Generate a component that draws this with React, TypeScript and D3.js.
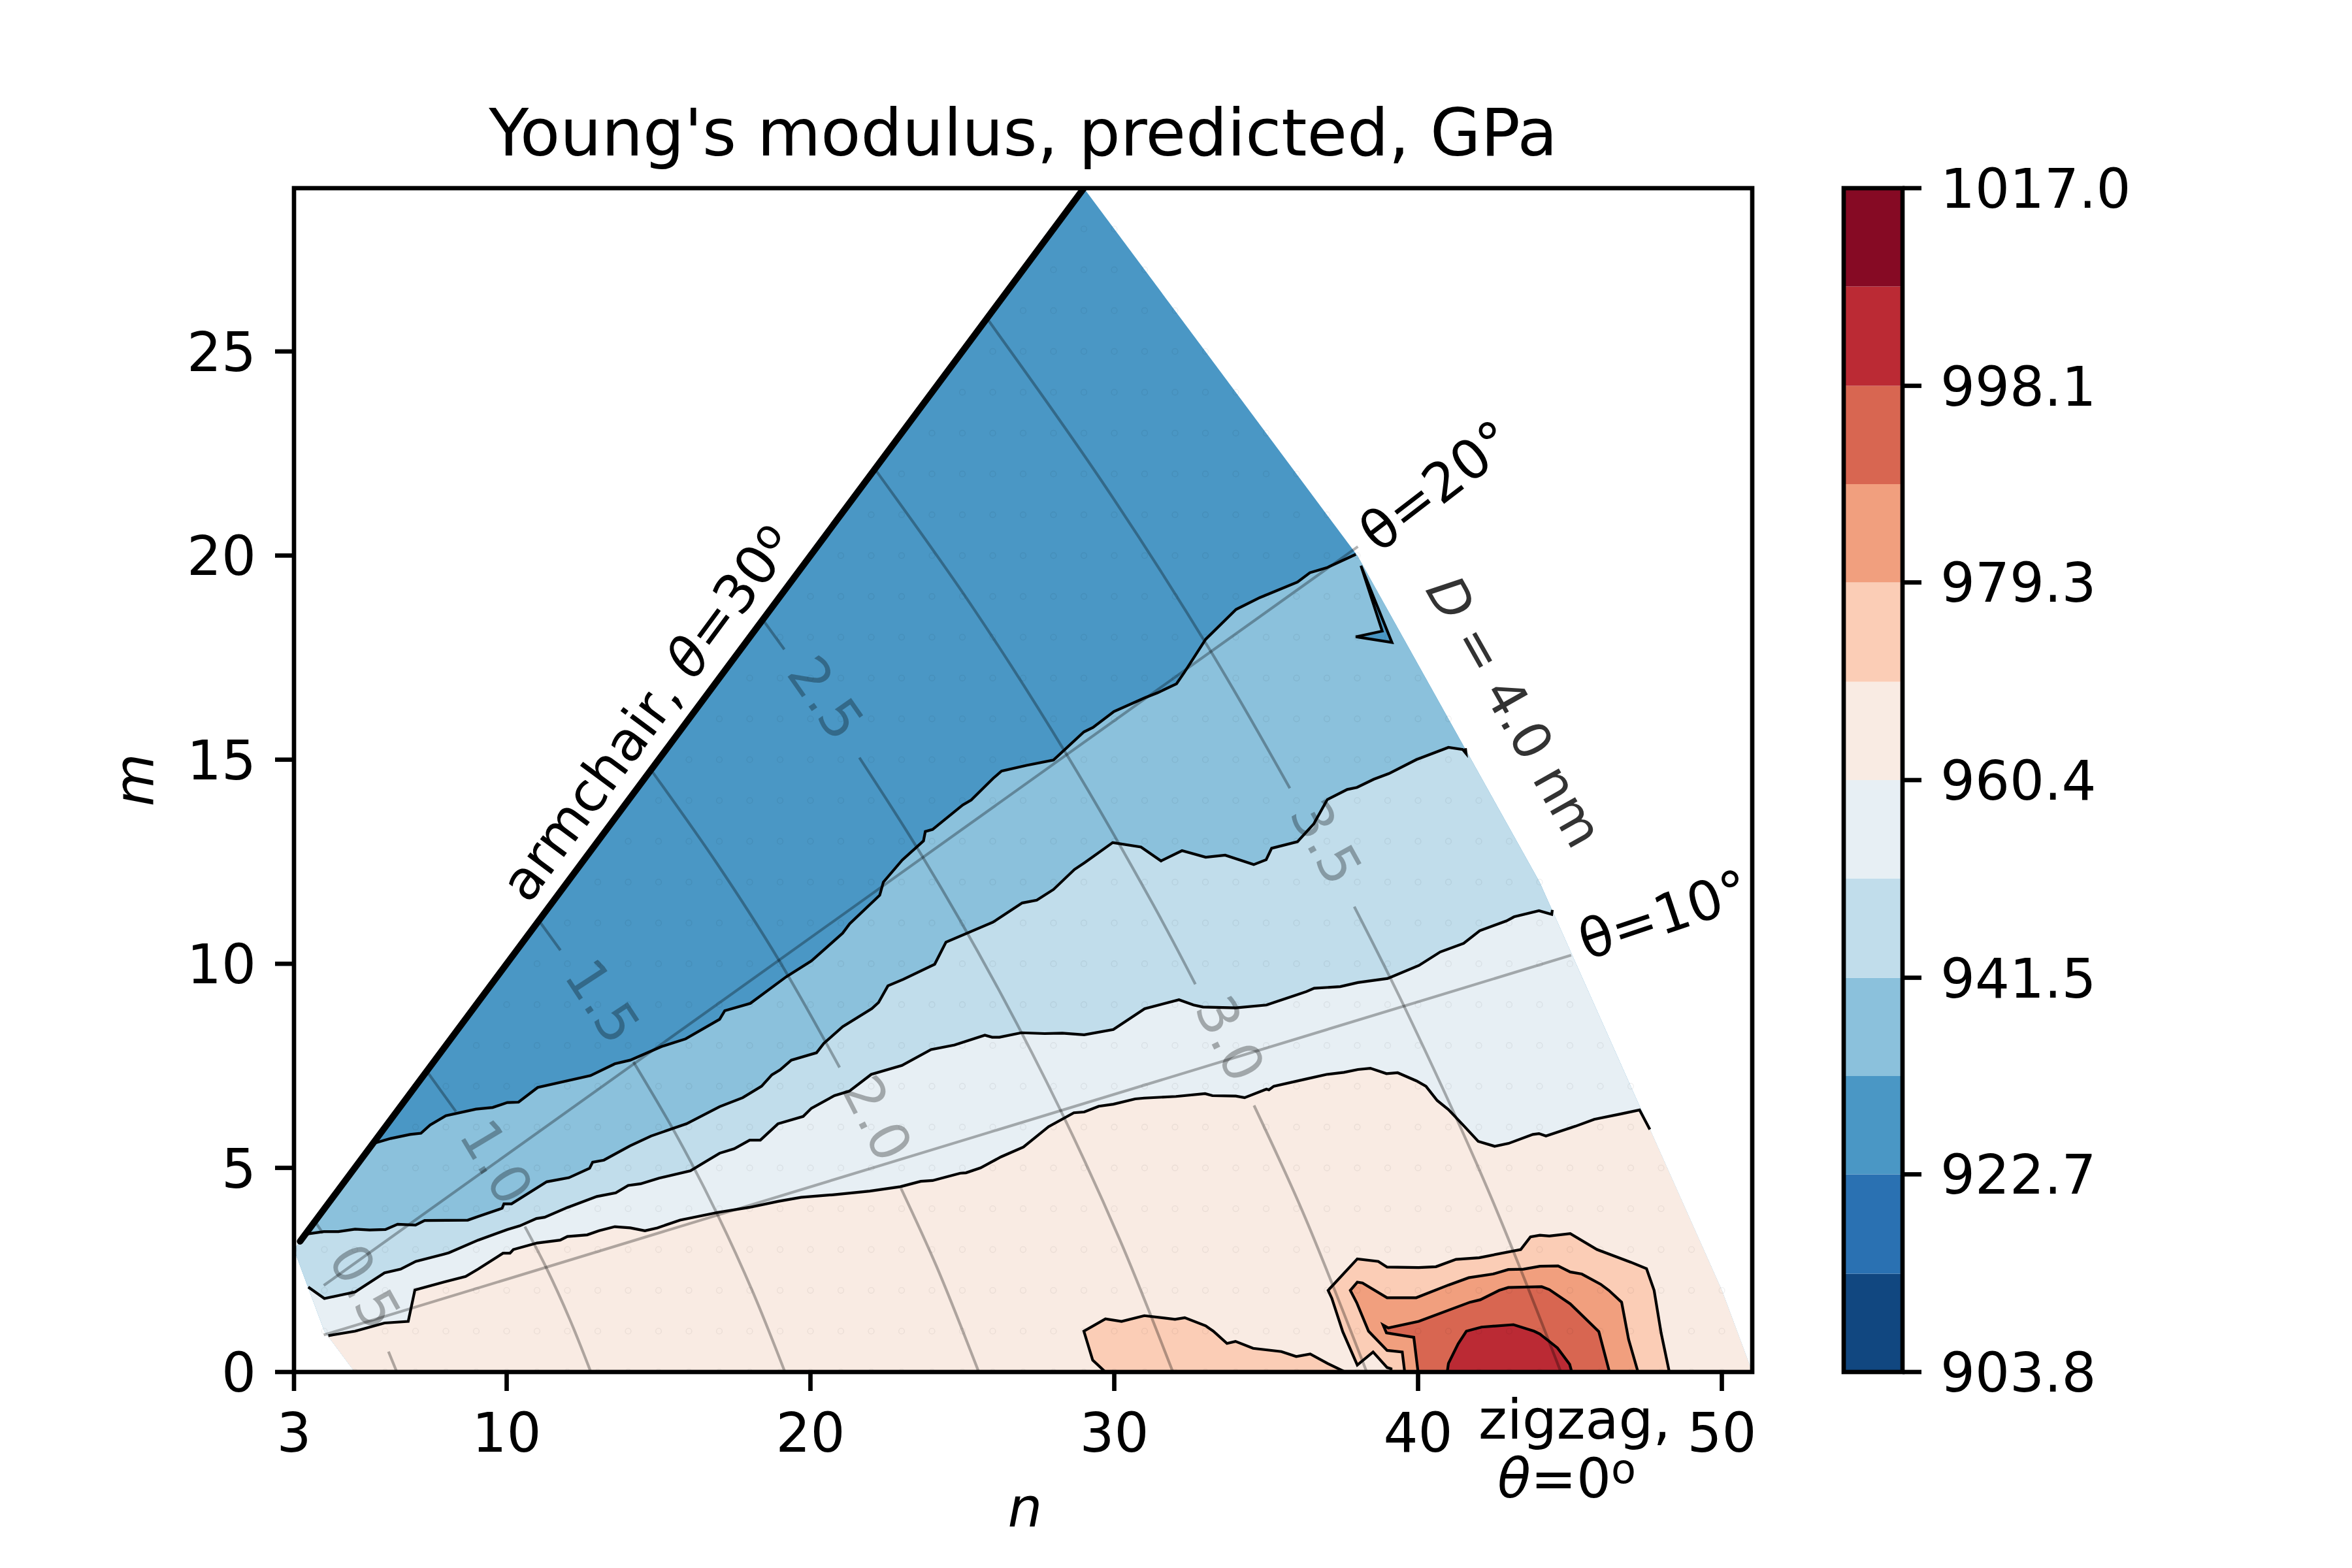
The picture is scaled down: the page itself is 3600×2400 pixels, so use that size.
import React from "react";
import * as d3 from "d3";

type P = [number, number];

// Contour levels and band colours of the filled contour (RdBu_r, 12 levels)
const levels = [903.8, 913.2, 922.7, 932.1, 941.5, 951.0, 960.4, 969.8, 979.3, 988.7, 998.1, 1007.6, 1017.0];
const bandColors = ["#114780", "#2a71b2", "#4a97c5", "#8bc1dc", "#c1ddeb", "#e7eff4", "#f9ebe3", "#fbcdb6", "#f19f7e", "#d86651", "#bb2a34", "#860a24"];
const colorbarTicks = [903.8, 922.7, 941.5, 960.4, 979.3, 998.1, 1017.0];
const xTicks = [3, 10, 20, 30, 40, 50];
const yTicks = [0, 5, 10, 15, 20, 25];

// Lattice of computed (n, m) nanotubes: smallest and largest n per row m
const gridNMin = [5, 4, 4, 3, 4, 5, 6, 7, 8, 9, 10, 11, 12, 13, 14, 15, 16, 17, 18, 19, 20, 21, 22, 23, 24, 25, 26, 27, 28, 29];
const gridNMax = [51, 50, 50, 49, 48, 48, 47, 47, 46, 45, 45, 44, 44, 43, 42, 41, 41, 40, 39, 38, 38, 37, 36, 35, 34, 33, 32, 31, 30, 29];

const c932: P[] = [[5.63,5.6],[6.18,5.72],[6.82,5.82],[7.18,5.85],[7.48,6.05],[8.0,6.28],[8.99,6.44],[9.54,6.48],[10.02,6.6],[10.39,6.61],[11.02,6.97],[12.76,7.26],[13.56,7.55],[14.07,7.64],[15.09,7.97],[15.89,8.16],[17.01,8.64],[17.18,8.85],[18.02,9.03],[19.2,9.68],[20.03,10.07],[21.06,10.75],[21.29,10.98],[22.28,11.68],[22.4,12.0],[23.02,12.54],[23.72,13.01],[23.78,13.24],[24.02,13.29],[25.01,13.89],[25.29,14.01],[26.01,14.54],[26.29,14.72],[27.11,14.86],[28.0,14.99],[29.0,15.68],[29.3,15.79],[29.99,16.18],[31.02,16.52],[31.43,16.64],[32.05,16.86],[32.3,17.13],[33.01,17.95],[34.01,18.68],[34.79,18.97],[36.03,19.35],[36.44,19.58],[36.99,19.7],[37.95,20.03]];
const c932Wedge: P[] = [[38.12,19.75],[39.14,17.87],[37.95,18.01],[38.82,18.15]];
const c941: P[] = [[3.41,3.38],[3.98,3.44],[4.46,3.44],[5.01,3.5],[5.49,3.48],[6.01,3.49],[6.41,3.62],[7.0,3.6],[7.3,3.71],[8.72,3.72],[9.06,3.81],[9.85,4.01],[9.91,4.12],[10.16,4.12],[11.32,4.66],[12.05,4.76],[12.73,4.99],[12.83,5.14],[13.2,5.19],[14.06,5.54],[14.75,5.78],[15.92,6.08],[17.01,6.5],[17.77,6.72],[18.39,7.0],[18.73,7.28],[19.0,7.4],[19.37,7.64],[20.2,7.82],[20.44,8.05],[21.06,8.46],[22.02,8.9],[22.24,9.05],[22.55,9.46],[23.06,9.62],[24.09,9.99],[24.46,10.53],[26.01,11.02],[26.97,11.49],[27.45,11.56],[28.0,11.82],[28.69,12.31],[29.03,12.48],[29.95,12.97],[30.88,12.86],[31.54,12.52],[32.23,12.77],[33.01,12.61],[33.65,12.66],[34.59,12.43],[35.0,12.55],[35.18,12.83],[36.03,12.99],[36.57,13.43],[37.01,14.02],[37.67,14.27],[37.99,14.32],[38.54,14.52],[39.04,14.66],[39.94,15.0],[41.0,15.3],[41.47,15.25],[41.58,15.15],[41.56,15.28]];
const c951: P[] = [[3.47,2.08],[4.0,1.8],[4.51,1.88],[5.01,1.96],[5.98,2.43],[6.51,2.52],[7.01,2.71],[7.95,2.89],[8.1,2.92],[9.06,3.23],[10.02,3.49],[10.43,3.58],[10.98,3.76],[11.25,3.79],[12.0,4.03],[12.97,4.3],[13.59,4.39],[14.0,4.57],[14.41,4.61],[15.02,4.75],[16.05,4.93],[17.01,5.36],[17.49,5.47],[18.0,5.68],[18.35,5.68],[18.93,6.08],[19.76,6.26],[20.03,6.46],[20.79,6.77],[21.28,6.88],[22.0,7.29],[23.01,7.51],[23.97,7.9],[24.74,8.01],[25.74,8.25],[25.98,8.2],[26.22,8.2],[26.94,8.31],[27.71,8.29],[28.29,8.3],[29.01,8.26],[29.97,8.39],[31.0,8.9],[32.13,9.12],[32.61,8.99],[32.92,8.94],[34.0,8.92],[35.01,8.99],[36.33,9.32],[36.58,9.4],[37.44,9.44],[38.02,9.54],[39.0,9.64],[40.03,9.96],[40.73,10.29],[41.5,10.5],[42.03,10.81],[42.91,11.05],[43.16,11.15],[43.98,11.3],[44.4,11.21],[44.42,11.32]];
const c960: P[] = [[4.13,0.89],[5.01,1.0],[5.98,1.2],[6.76,1.24],[6.98,2.01],[7.96,2.21],[8.65,2.34],[9.06,2.52],[9.88,2.91],[10.11,2.91],[10.22,3.0],[11.0,3.16],[11.76,3.23],[12.0,3.32],[12.65,3.36],[13.04,3.46],[13.56,3.56],[14.07,3.53],[14.55,3.46],[14.96,3.53],[15.71,3.72],[16.95,3.91],[17.97,4.03],[18.93,4.18],[19.69,4.28],[20.72,4.34],[21.95,4.43],[22.96,4.54],[23.63,4.67],[24.02,4.69],[24.93,4.87],[25.12,4.88],[25.6,5.0],[26.27,5.27],[27.01,5.51],[27.84,6.01],[28.67,6.35],[29.01,6.37],[29.49,6.51],[29.97,6.56],[30.69,6.69],[30.98,6.71],[32.03,6.75],[32.99,6.82],[33.23,6.77],[34.0,6.76],[34.29,6.72],[35.01,6.93],[35.09,6.91],[35.25,7.0],[36.33,7.18],[36.99,7.29],[37.56,7.34],[38.02,7.41],[38.43,7.44],[38.96,7.31],[39.33,7.33],[39.95,7.13],[40.26,7.0],[40.63,6.65],[41.0,6.43],[41.52,6.02],[41.98,5.65],[42.52,5.53],[42.98,5.6],[43.78,5.82],[43.98,5.84],[44.21,5.78],[45.18,6.02],[45.8,6.19],[46.66,6.32],[47.29,6.42],[47.63,5.94]];
const c970A: P[] = [[29.71,0],[29.29,0.29],[29.0,1.0],[29.71,1.3],[30.24,1.24],[30.99,1.38],[32.0,1.29],[32.32,1.33],[33.01,1.13],[33.26,1.0],[33.71,0.7],[33.99,0.75],[34.57,0.58],[35.5,0.5],[35.99,0.38],[36.45,0.44],[37.02,0.21],[37.6,0]];
const c970B: P[] = [[48.27,0],[48.0,0.96],[47.77,2.0],[47.52,2.53],[47.0,2.69],[45.89,3.0],[45.01,3.39],[44.32,3.33],[44.01,3.35],[43.7,3.31],[43.38,3.0],[42.01,2.8],[41.25,2.76],[40.59,2.58],[40.02,2.56],[38.98,2.57],[38.69,2.71],[38.0,2.77],[37.04,2.0],[37.16,1.81],[37.52,0.99],[38.0,0.17],[38.52,0.49],[38.98,0.11],[39.11,0.08],[39.11,0]];
const c979: P[] = [[47.24,0],[46.93,0.8],[46.7,1.71],[46.28,2.0],[46.01,2.15],[45.39,2.4],[45.01,2.45],[44.61,2.6],[44.01,2.59],[43.47,2.52],[42.97,2.51],[42.47,2.4],[41.67,2.31],[41.0,2.13],[39.94,1.82],[38.98,1.82],[38.17,2.18],[38.0,2.2],[37.77,2.0],[37.98,1.7],[38.37,1.0],[38.98,0.53],[39.48,0.49],[39.56,0]];
const c989: P[] = [[46.3,0],[45.95,0.99],[45.01,1.67],[44.32,2.02],[44.07,2.09],[42.97,2.07],[42.67,2.0],[42.05,1.77],[41.71,1.71],[40.02,1.24],[39.02,1.08],[38.85,1.15],[38.96,0.96],[39.86,0.85],[40.0,0]];
const c998: P[] = [[45.06,0],[44.99,0.19],[44.59,0.59],[44.01,0.93],[43.82,1.0],[43.14,1.16],[42.09,1.1],[41.59,1.0],[41.32,0.69],[41.0,0.21],[40.96,0]];

// Iso-diameter curves (each piece stops where the inline label sits)
const isoD05: P[][] = [[[3.69,3.69],[3.95,3.4]],[[6.11,0.5],[6.385,0]]];
const isoD10: P[][] = [[[7.37,7.37],[8.33,6.38]],[[10.6,3.56],[11.3,2.56],[12.08,1.285],[12.77,0]]];
const isoD15: P[][] = [[[11.06,11.06],[11.77,10.33]],[[14.17,7.6],[15.64,5.73],[16.95,3.84],[18.12,1.93],[19.16,0]]];
const isoD20: P[][] = [[[14.75,14.75],[16.92,12.46],[18.96,10.09],[20.96,7.46]],[[22.98,4.5],[24.16,2.57],[25.54,0]]];
const isoD25: P[][] = [[[18.43,18.43],[19.14,17.7]],[[21.61,15.05],[23.7,12.61],[26.07,9.54],[28.24,6.4],[30.2,3.21],[31.93,0]]];
const isoD30: P[][] = [[[22.12,22.12],[25.37,18.7],[28.43,15.13],[31.28,11.45],[32.67,9.5]],[[34.6,6.53],[36.24,3.86],[38.31,0]]];
const isoD35: P[][] = [[[25.81,25.81],[29.6,21.81],[33.18,17.65],[35.78,14.3]],[[37.9,11.4],[39.54,8.96],[42.28,4.5],[44.7,0]]];
const isoCurves = [isoD05, isoD10, isoD15, isoD20, isoD25, isoD30, isoD35];
const isoLabels = ["0.5", "1.0", "1.5", "2.0", "2.5", "3.0", "3.5"];
const isoLabelN = [5.35, 9.68, 13.17, 22.21, 20.52, 33.83, 36.99];
const isoLabelM = [2.1, 5.15, 9.09, 6.22, 16.52, 8.17, 12.99];
const isoLabelAngle = [61, 59, 56.7, 63, 55, 64, 61];

const theta20: P[] = [[3.98,2.12],[38.02,20.22]];
const theta10: P[] = [[3.98,0.907],[45.04,10.21]];
const armchair: P[] = [[3.2,3.2],[29,29]];

const FONT = "'DejaVu Sans', sans-serif";
const FS = 83.33;
const PT = 600 / 72;

const x = d3.scaleLinear().domain([3, 51]).range([450, 2682]);
const y = d3.scaleLinear().domain([0, 29]).range([2100, 288]);
const cb = d3.scaleLinear().domain([903.8, 1017.0]).range([2100, 288]);
const line = d3.line<P>().x((d) => x(d[0])).y((d) => y(d[1]));
const curved = d3.line<P>().x((d) => x(d[0])).y((d) => y(d[1])).curve(d3.curveCatmullRom);

const gridPoints: P[] = gridNMin.flatMap((lo, m) => d3.range(lo, gridNMax[m] + 1).map((n) => [n, m] as P));
const hull = d3.polygonHull(gridPoints) as P[];

const below = (c: P[]): P[] => [...c, [60, c[c.length - 1][1]], [60, -5], [0, -5], [0, c[0][1]]];
const Contour = ({ pts, closed }: { pts: P[]; closed?: boolean }) => (
  <path d={line(pts)! + (closed ? "Z" : "")} fill="none" stroke="#000" strokeWidth={4.2} strokeLinejoin="miter" />
);

export default function App() {
  return (
    <svg width={3600} height={2400} viewBox="0 0 3600 2400" style={{ position: "fixed", left: 0, top: 0, background: "#fff" }} fontFamily={FONT} fontSize={FS} fill="#000">
      <defs>
        <clipPath id="hull"><path d={line(hull) + "Z"} /></clipPath>
        <clipPath id="axes"><rect x={450} y={288} width={2232} height={1812} /></clipPath>
      </defs>

      <g clipPath="url(#axes)">
        <path d={line(hull) + "Z"} fill={bandColors[2]} />
        <g clipPath="url(#hull)">
          <path d={line(below(c932)) + "Z"} fill={bandColors[3]} />
          <path d={line(c932Wedge) + "Z"} fill={bandColors[2]} />
          <path d={line(below(c941)) + "Z"} fill={bandColors[4]} />
          <path d={line(below(c951)) + "Z"} fill={bandColors[5]} />
          <path d={line(below(c960)) + "Z"} fill={bandColors[6]} />
          <path d={line(c970A) + "Z"} fill={bandColors[7]} />
          <path d={line(c970B) + "Z"} fill={bandColors[7]} />
          <path d={line(c979) + "Z"} fill={bandColors[8]} />
          <path d={line(c989) + "Z"} fill={bandColors[9]} />
          <path d={line(c998) + "Z"} fill={bandColors[10]} />
        </g>
        {gridPoints.map(([n, m]) => (
          <circle key={`${n}-${m}`} cx={x(n)} cy={y(m)} r={4.4} fill="none" stroke="#000" strokeOpacity={0.06} strokeWidth={1.4} />
        ))}
        {isoCurves.map((pieces, i) =>
          pieces.map((p, j) => <path key={`${i}-${j}`} d={curved(p)!} fill="none" stroke="#000" strokeOpacity={0.3} strokeWidth={4.2} />)
        )}
        {[theta10, theta20].map((p, i) => (
          <path key={i} d={line(p)!} fill="none" stroke="#000" strokeOpacity={0.3} strokeWidth={4.2} />
        ))}
        <Contour pts={c932} />
        <Contour pts={c932Wedge} closed />
        <Contour pts={c941} />
        <Contour pts={c951} />
        <Contour pts={c960} />
        <Contour pts={c970A} />
        <Contour pts={c970B} />
        <Contour pts={c979} />
        <Contour pts={c989} />
        <Contour pts={c998} />
        <path d={line(armchair)!} fill="none" stroke="#000" strokeWidth={10} strokeLinecap="round" />
      </g>

      {isoLabels.map((t, i) => (
        <text key={t} transform={`translate(${x(isoLabelN[i])},${y(isoLabelM[i])}) rotate(${isoLabelAngle[i]})`} textAnchor="middle" dy="0.36em" fontSize={FS} fillOpacity={0.3}>{t}</text>
      ))}

      {/* axes */}
      <rect x={450} y={288} width={2232} height={1812} fill="none" stroke="#000" strokeWidth={0.8 * PT} />
      {xTicks.map((t) => (
        <g key={t}>
          <line x1={x(t)} x2={x(t)} y1={2100} y2={2129} stroke="#000" strokeWidth={0.8 * PT} />
          <text x={x(t)} y={2222} textAnchor="middle">{t}</text>
        </g>
      ))}
      {yTicks.map((t) => (
        <g key={t}>
          <line x1={421} x2={450} y1={y(t)} y2={y(t)} stroke="#000" strokeWidth={0.8 * PT} />
          <text x={392} y={y(t)} dy="0.36em" textAnchor="end">{t}</text>
        </g>
      ))}
      <text x={1566} y={238} textAnchor="middle" fontSize={100}>Young's modulus, predicted, GPa</text>
      <text x={1569} y={2336} textAnchor="middle" fontStyle="italic">n</text>
      <text transform="translate(234,1194) rotate(-90)" textAnchor="middle" fontStyle="italic">m</text>

      {/* annotations */}
      <text transform="translate(994,1093) rotate(-53.5)" textAnchor="middle" dy="0.3em">
        armchair, <tspan fontStyle="italic">θ</tspan>=30<tspan dy="-0.36em" fontSize={62}>o</tspan>
      </text>
      <text transform="translate(2201,747) rotate(-37.5)" textAnchor="middle" dy="0.3em">θ=20°</text>
      <text transform="translate(2548,1404) rotate(-18.5)" textAnchor="middle" dy="0.3em">θ=10°</text>
      <text transform="translate(2315,1091) rotate(60.5)" textAnchor="middle" dy="0.3em" fontSize={80} fill="#333">
        <tspan fontStyle="italic">D</tspan> = 4.0 nm
      </text>
      <text x={2410} y={2202} textAnchor="middle">zigzag,</text>
      <text x={2398} y={2292} textAnchor="middle">
        <tspan fontStyle="italic">θ</tspan>=0<tspan dy="-0.36em" fontSize={62}>o</tspan>
      </text>

      {/* colorbar */}
      {bandColors.map((c, i) => (
        <rect key={c} x={2822} width={90} y={cb(levels[i + 1])} height={cb(levels[i]) - cb(levels[i + 1])} fill={c} />
      ))}
      <rect x={2822} y={288} width={90} height={1812} fill="none" stroke="#000" strokeWidth={0.8 * PT} />
      {colorbarTicks.map((t) => (
        <g key={t}>
          <line x1={2912} x2={2941} y1={cb(t)} y2={cb(t)} stroke="#000" strokeWidth={0.8 * PT} />
          <text x={2970} y={cb(t)} dy="0.36em">{t.toFixed(1)}</text>
        </g>
      ))}
    </svg>
  );
}
